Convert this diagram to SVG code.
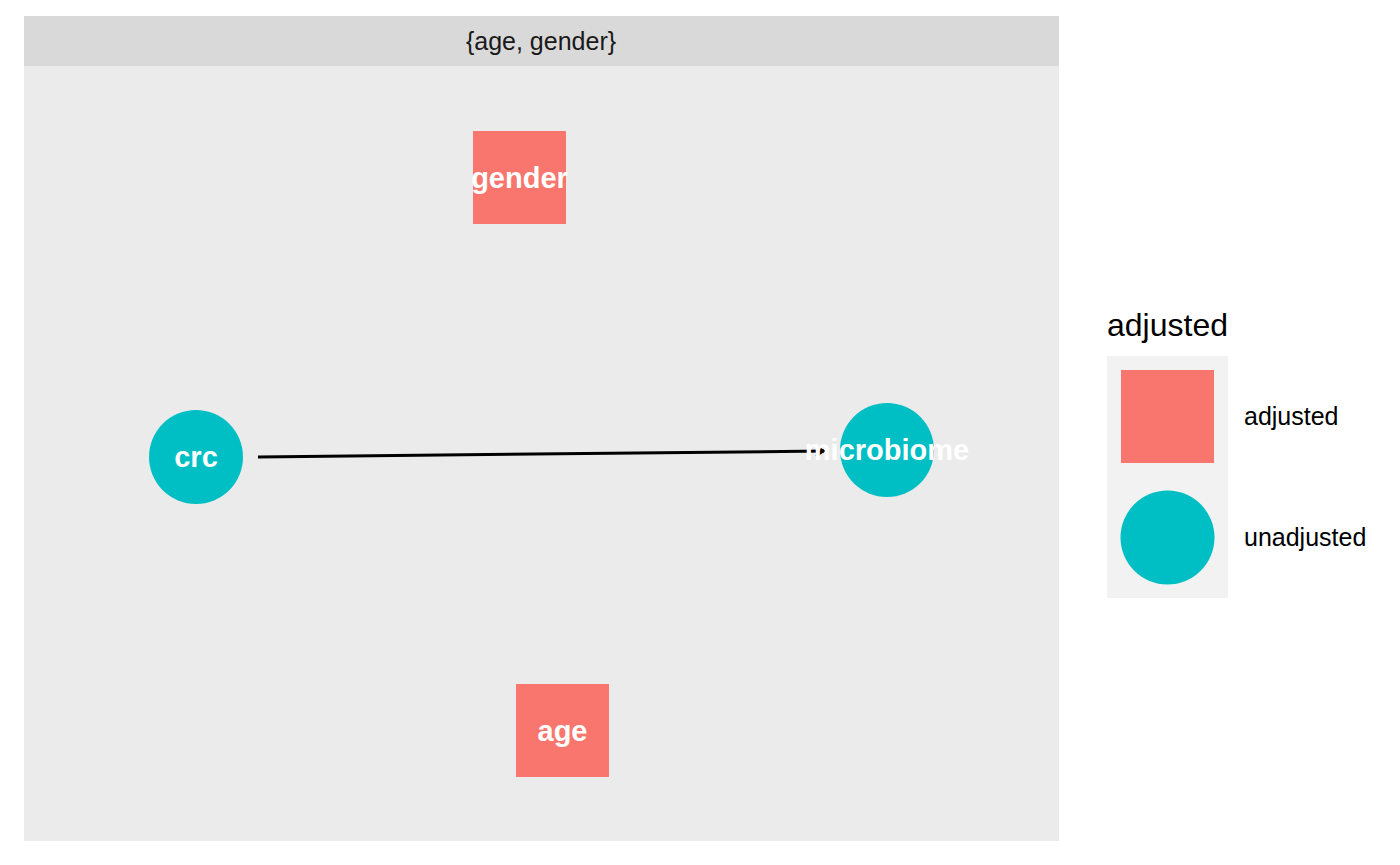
<svg xmlns="http://www.w3.org/2000/svg" width="1400" height="865" viewBox="0 0 1400 865">
<style>
.lbl{font-family:"Liberation Sans",Arial,sans-serif;font-weight:bold;font-size:29px;fill:#ffffff;text-anchor:middle}
.adj{fill:#f8766d}
.unadj{fill:#00bfc4}
.leg{font-family:"Liberation Sans",Arial,sans-serif;font-size:25px;fill:#000000}
.legtitle{font-family:"Liberation Sans",Arial,sans-serif;font-size:32px;fill:#000000}
</style>
<defs>
<marker id="arr" markerWidth="10" markerHeight="12" refX="9" refY="6" orient="auto" markerUnits="userSpaceOnUse">
<path d="M1,1 L9,6 L1,11" fill="none" stroke="#000" stroke-width="2"/>
</marker>
</defs>
<rect x="0" y="0" width="1400" height="865" fill="#ffffff"/>
<rect x="24" y="16" width="1035" height="50" fill="#d9d9d9"/>
<rect x="24" y="66" width="1035" height="775" fill="#ebebeb"/>
<text x="541" y="50" font-family="'Liberation Sans',Arial,sans-serif" font-size="25" fill="#1a1a1a" text-anchor="middle">{age, gender}</text>
<g id="connectors">
<line x1="258" y1="457" x2="824" y2="451" stroke="#000" stroke-width="3" marker-end="url(#arr)"/>
</g>
<g id="node-gender">
<rect class="adj" x="473" y="131" width="93" height="93"/>
<text class="lbl" x="519.5" y="188">gender</text>
</g>
<g id="node-age">
<rect class="adj" x="516" y="684" width="93" height="93"/>
<text class="lbl" x="562.5" y="741">age</text>
</g>
<g id="node-crc">
<circle class="unadj" cx="196" cy="457" r="47"/>
<text class="lbl" x="196" y="467">crc</text>
</g>
<g id="node-microbiome">
<circle class="unadj" cx="887" cy="450" r="47"/>
<text class="lbl" x="887" y="460">microbiome</text>
</g>
<g id="legend">
<text class="legtitle" x="1107" y="336">adjusted</text>
<rect x="1107" y="356" width="121" height="242" fill="#f2f2f2"/>
<rect class="adj" x="1121" y="370" width="93" height="93"/>
<circle class="unadj" cx="1167.5" cy="537.5" r="47"/>
<text class="leg" x="1244" y="425">adjusted</text>
<text class="leg" x="1244" y="546">unadjusted</text>
</g>
</svg>
